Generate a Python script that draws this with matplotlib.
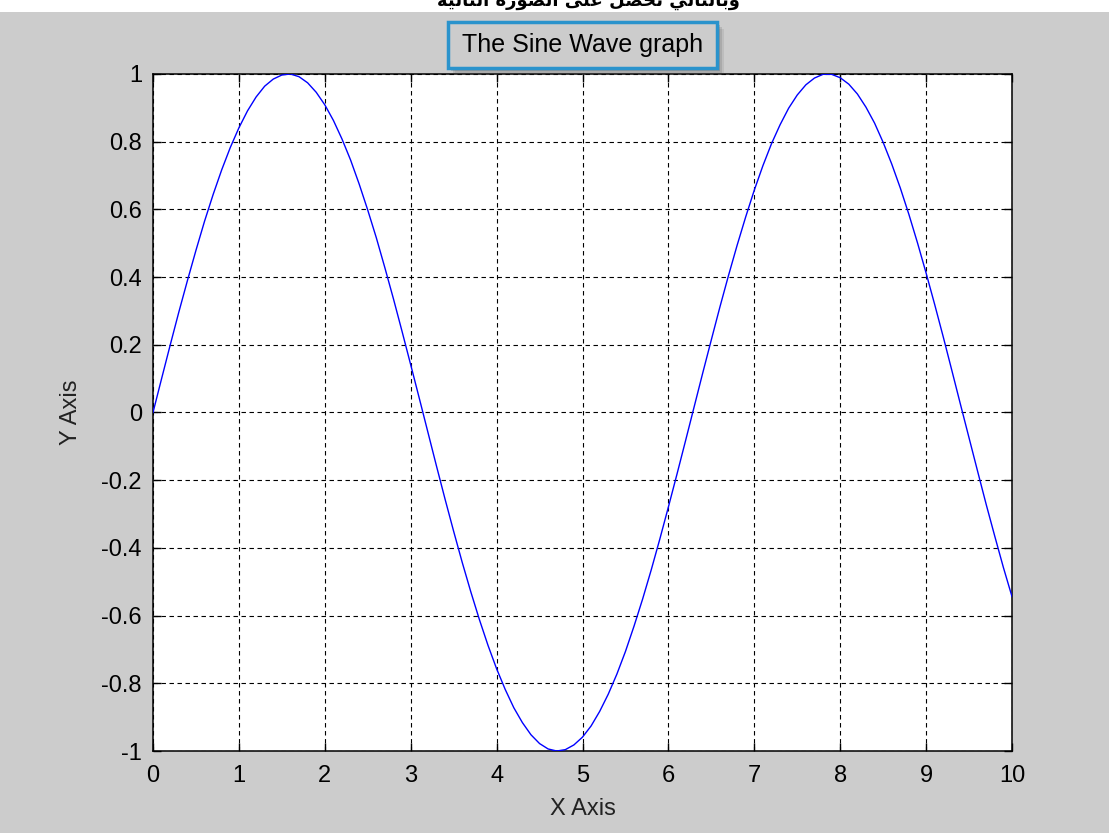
import numpy as np
import matplotlib
matplotlib.use("Agg")
import matplotlib.pyplot as plt
from matplotlib.patches import Rectangle

# curve, x step 0.1
x_vals = np.arange(0, 10.001, 0.1)
y_vals = [0.000, 0.100, 0.199, 0.296, 0.389, 0.479, 0.565, 0.644, 0.717, 0.783,
          0.841, 0.891, 0.932, 0.964, 0.985, 0.997, 1.000, 0.992, 0.974, 0.946,
          0.909, 0.863, 0.808, 0.746, 0.675, 0.598, 0.516, 0.427, 0.335, 0.239,
          0.141, 0.042, -0.058, -0.158, -0.256, -0.351, -0.443, -0.530, -0.612, -0.688,
          -0.757, -0.818, -0.872, -0.916, -0.952, -0.978, -0.994, -1.000, -0.996, -0.982,
          -0.959, -0.926, -0.883, -0.832, -0.773, -0.706, -0.631, -0.551, -0.465, -0.374,
          -0.279, -0.182, -0.083, 0.017, 0.117, 0.215, 0.312, 0.405, 0.494, 0.578,
          0.657, 0.729, 0.794, 0.850, 0.899, 0.938, 0.968, 0.988, 0.999, 0.999,
          0.989, 0.970, 0.941, 0.902, 0.855, 0.798, 0.734, 0.663, 0.585, 0.501,
          0.412, 0.319, 0.223, 0.124, 0.024, -0.075, -0.174, -0.272, -0.366, -0.458,
          -0.544]
x_ticks = [0, 1, 2, 3, 4, 5, 6, 7, 8, 9, 10]
y_ticks = [-1, -0.8, -0.6, -0.4, -0.2, 0, 0.2, 0.4, 0.6, 0.8, 1]
y_labels = ["-1", "-0.8", "-0.6", "-0.4", "-0.2", "0", "0.2", "0.4", "0.6", "0.8", "1"]
title = "The Sine Wave graph"
# "وبالتالي نحصل على الصورة التالية" in presentation forms, logical order
arabic_logical = ("\uFEED\uFE91\uFE8E\uFEDF\uFE98\uFE8E\uFEDF\uFEF2 "
                  "\uFEE7\uFEA4\uFEBC\uFEDE "
                  "\uFECB\uFEE0\uFEF0 "
                  "\uFE8D\uFEDF\uFEBC\uFEEE\uFEAD\uFE93 "
                  "\uFE8D\uFEDF\uFE98\uFE8E\uFEDF\uFEF4\uFE94")
arabic_visual = arabic_logical[::-1]

plt.rcParams['font.family'] = ['Liberation Sans', 'DejaVu Sans']

W, H = 1109, 833
fig = plt.figure(figsize=(W / 100, H / 100), dpi=100, facecolor='white')

# gray window background below the white strip
fig.patches.append(Rectangle((0, 0), 1, (H - 12) / H, transform=fig.transFigure,
                             facecolor='#cccccc', edgecolor='none', zorder=-5))

# cropped heading text at the very top
fig.text(588 / W, 1 - 6 / H, arabic_visual, ha='center', va='baseline',
         fontsize=13, fontweight='bold', family='DejaVu Sans', color='black')

ax = fig.add_axes([153 / W, 82 / H, 859 / W, 677 / H])
ax.set_facecolor('white')
ax.plot(x_vals, y_vals, color='#0000ff', lw=1.0, zorder=3)
ax.set_xlim(0, 10)
ax.set_ylim(-1, 1)
ax.set_xticks(x_ticks)
ax.set_yticks(y_ticks)
ax.set_yticklabels(y_labels)
ax.grid(True, color='black', linestyle=(0, (4, 3.2)), linewidth=0.8)
ax.tick_params(direction='in', length=6, width=1, top=True, right=True,
               labelsize=17, colors='black')
ax.tick_params(axis='y', pad=8)
ax.tick_params(axis='x', pad=10)
for s in ax.spines.values():
    s.set_linewidth(1.1)
    s.set_color('black')
ax.set_xlabel("X Axis", fontsize=17, color='#222222', labelpad=8)
ax.set_ylabel("Y Axis", fontsize=17, color='#222222', labelpad=14)

# title box with soft shadow
bx, by, bw, bh = 448, 22, 269, 46
for off, a in [(7, 0.12), (5, 0.18), (3, 0.25)]:
    fig.patches.append(Rectangle(((bx + off) / W, 1 - (by + bh + off) / H), bw / W, bh / H,
                                 transform=fig.transFigure, facecolor='#555555',
                                 edgecolor='none', alpha=a, zorder=1))
fig.patches.append(Rectangle((bx / W, 1 - (by + bh) / H), bw / W, bh / H,
                             transform=fig.transFigure, facecolor='#cccccc',
                             edgecolor='#2a93cc', linewidth=2.5, zorder=2))
fig.text((bx + bw / 2) / W, 1 - (by + bh / 2) / H, title, ha='center', va='center',
         fontsize=18, color='black', zorder=3)

fig.savefig("out.png", dpi=100, facecolor=fig.get_facecolor())
